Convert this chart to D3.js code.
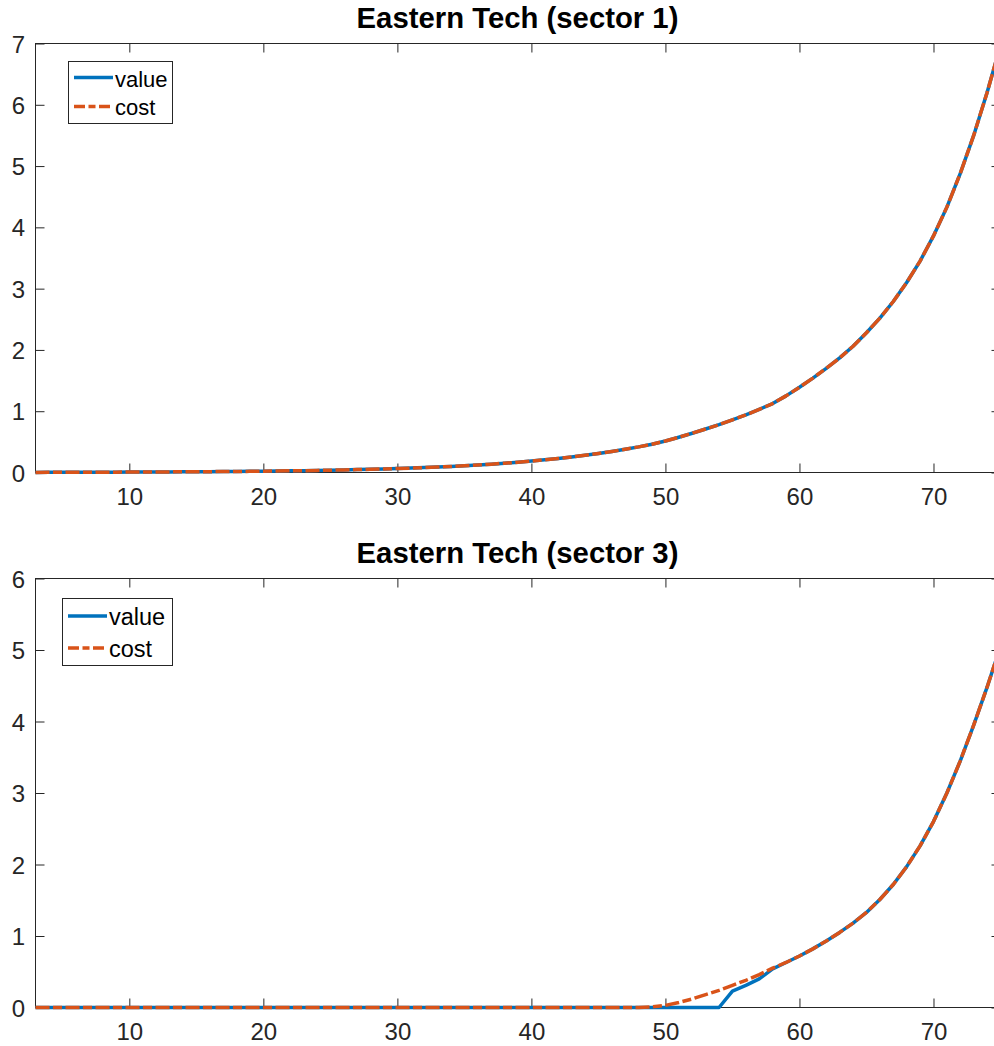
<!DOCTYPE html>
<html><head><meta charset="utf-8">
<script src="https://cdn.jsdelivr.net/npm/d3@7"></script>
<style>body{margin:0;background:#fff}svg{display:block}</style>
</head><body>
<svg id="c" width="994" height="1046"></svg>
<script>
const years = [3,4,5,6,7,8,9,10,11,12,13,14,15,16,17,18,19,20,21,22,23,24,25,26,27,28,29,30,31,32,33,34,35,36,37,38,39,40,41,42,43,44,45,46,47,48,49,50,51,52,53,54,55,56,57,58,59,60,61,62,63,64,65,66,67,68,69,70,71,72,73,74,75];

const sector1Value = [0.002,0.003,0.003,0.004,0.004,0.005,0.006,0.007,0.008,0.009,0.010,0.011,0.012,0.014,0.015,0.017,0.019,0.021,0.024,0.027,0.030,0.034,0.038,0.042,0.047,0.052,0.058,0.065,0.072,0.080,0.089,0.099,0.110,0.122,0.136,0.151,0.168,0.187,0.207,0.229,0.253,0.280,0.310,0.343,0.379,0.418,0.462,0.515,0.575,0.640,0.710,0.780,0.860,0.940,1.030,1.125,1.250,1.390,1.540,1.700,1.870,2.060,2.280,2.520,2.790,3.100,3.450,3.860,4.330,4.880,5.500,6.200,6.970];
const sector1Cost  = [0.002,0.003,0.003,0.004,0.004,0.005,0.006,0.007,0.008,0.009,0.010,0.011,0.012,0.014,0.015,0.017,0.019,0.021,0.024,0.027,0.030,0.034,0.038,0.042,0.047,0.052,0.058,0.065,0.072,0.080,0.089,0.099,0.110,0.122,0.136,0.151,0.168,0.187,0.207,0.229,0.253,0.280,0.310,0.343,0.379,0.418,0.462,0.515,0.575,0.640,0.710,0.780,0.860,0.940,1.030,1.125,1.250,1.390,1.540,1.700,1.870,2.060,2.280,2.520,2.790,3.100,3.450,3.860,4.330,4.880,5.500,6.200,6.970];

const sector3Value = [0,0,0,0,0,0,0,0,0,0,0,0,0,0,0,0,0,0,0,0,0,0,0,0,0,0,0,0,0,0,0,0,0,0,0,0,0,0,0,0,0,0,0,0,0,0,0,0,0,0,0,0,0.23,0.31,0.40,0.54,0.63,0.72,0.82,0.93,1.05,1.18,1.33,1.51,1.72,1.97,2.26,2.60,3.00,3.45,3.95,4.48,5.05];
const sector3Cost  = [0,0,0,0,0,0,0,0,0,0,0,0,0,0,0,0,0,0,0,0,0,0,0,0,0,0,0,0,0,0,0,0,0,0,0,0,0,0,0,0,0,0,0,0,0,0,0.008,0.03,0.07,0.12,0.18,0.24,0.31,0.38,0.46,0.55,0.63,0.72,0.82,0.93,1.05,1.18,1.33,1.51,1.72,1.97,2.26,2.60,3.00,3.45,3.95,4.48,5.05];

const xTicks = [10,20,30,40,50,60,70];
const yTicksTop = [0,1,2,3,4,5,6,7];
const yTicksBottom = [0,1,2,3,4,5,6];
const seriesNames = ["value","cost"];
const titles = ["Eastern Tech (sector 1)","Eastern Tech (sector 3)"];

const svg = d3.select("#c");
const FONT = "'Liberation Sans', Arial, Helvetica, sans-serif";
const AX = "#262626";

const panels = [
  {title: titles[0], value: sector1Value, cost: sector1Cost, yMax: 7, yTicks: yTicksTop,
   top: 43.5, bottom: 472.5, legend: {x: 68.5, y: 61.5, w: 104, h: 62, fs: 22, l0: 74, l1: 113, r1: 77.5, r2: 106.5, tx: 115, b1: 87, b2: 115}},
  {title: titles[1], value: sector3Value, cost: sector3Cost, yMax: 6, yTicks: yTicksBottom,
   top: 578.5, bottom: 1007.5, legend: {x: 62.5, y: 598.5, w: 110, h: 67, fs: 23.5, l0: 68, l1: 107, r1: 616, r2: 648, tx: 109, b1: 625, b2: 657}}
];

const left = 35.5, right = 1000.5;
const x = d3.scaleLinear().domain([3, 75]).range([left, right]);

panels.forEach(p => {
  const y = d3.scaleLinear().domain([0, p.yMax]).range([p.bottom, p.top]);
  const g = svg.append("g");

  g.append("rect").attr("x", left).attr("y", p.top)
    .attr("width", right - left).attr("height", p.bottom - p.top)
    .attr("fill", "none").attr("stroke", AX).attr("stroke-width", 1);

  const xb = g.append("g").attr("transform", `translate(0,${p.bottom})`)
    .call(d3.axisBottom(x).tickValues(xTicks).tickSizeInner(-9).tickSizeOuter(0).tickPadding(15).tickFormat(d3.format("d")));
  xb.select(".domain").remove();
  xb.selectAll("line").attr("stroke", AX);
  xb.selectAll("text").attr("fill", AX).attr("font-family", FONT).attr("font-size", 24).attr("dy", "0.71em");
  const xt = g.append("g").attr("transform", `translate(0,${p.top})`)
    .call(d3.axisTop(x).tickValues(xTicks).tickSizeInner(-9).tickSizeOuter(0).tickFormat(""));
  xt.select(".domain").remove();
  xt.selectAll("line").attr("stroke", AX);

  const yl = g.append("g").attr("transform", `translate(${left},0)`)
    .call(d3.axisLeft(y).tickValues(p.yTicks).tickSizeInner(-9).tickSizeOuter(0).tickPadding(10.5).tickFormat(d3.format("d")));
  yl.select(".domain").remove();
  yl.selectAll("line").attr("stroke", AX);
  yl.selectAll("text").attr("fill", AX).attr("font-family", FONT).attr("font-size", 24).attr("dy", "0.36em");
  const yr = g.append("g").attr("transform", `translate(${right},0)`)
    .call(d3.axisRight(y).tickValues(p.yTicks).tickSizeInner(-9).tickSizeOuter(0).tickFormat(""));
  yr.select(".domain").remove();
  yr.selectAll("line").attr("stroke", AX);

  g.append("text").attr("x", (left + right) / 2 - 0.5).attr("y", p.top - 15.5)
    .attr("text-anchor", "middle").attr("font-family", FONT).attr("font-weight", "bold")
    .attr("font-size", 29.3).attr("fill", "#000").text(p.title);

  const line = d3.line().x((d, i) => x(years[i])).y(d => y(d));
  g.append("path").datum(p.value).attr("d", line)
    .attr("fill", "none").attr("stroke", "#0072BD").attr("stroke-width", 3.5).attr("stroke-linejoin", "round");
  g.append("path").datum(p.cost).attr("d", line)
    .attr("fill", "none").attr("stroke", "#D95319").attr("stroke-width", 3.5)
    .attr("stroke-dasharray", "14,3.5,9,3.5").attr("stroke-linejoin", "round");

  const L = p.legend;
  const lg = g.append("g");
  lg.append("rect").attr("x", L.x).attr("y", L.y).attr("width", L.w).attr("height", L.h)
    .attr("fill", "#fff").attr("stroke", AX).attr("stroke-width", 1);
  lg.append("line").attr("x1", L.l0).attr("x2", L.l1).attr("y1", L.r1).attr("y2", L.r1)
    .attr("stroke", "#0072BD").attr("stroke-width", 3.5);
  lg.append("line").attr("x1", L.l0).attr("x2", L.l1).attr("y1", L.r2).attr("y2", L.r2)
    .attr("stroke", "#D95319").attr("stroke-width", 3.5).attr("stroke-dasharray", "11,3.5,7,3.5");
  lg.append("text").attr("x", L.tx).attr("y", L.b1).attr("font-family", FONT)
    .attr("font-size", L.fs).attr("fill", "#000").text(seriesNames[0]);
  lg.append("text").attr("x", L.tx).attr("y", L.b2).attr("font-family", FONT)
    .attr("font-size", L.fs).attr("fill", "#000").text(seriesNames[1]);
});
</script>
</body></html>
